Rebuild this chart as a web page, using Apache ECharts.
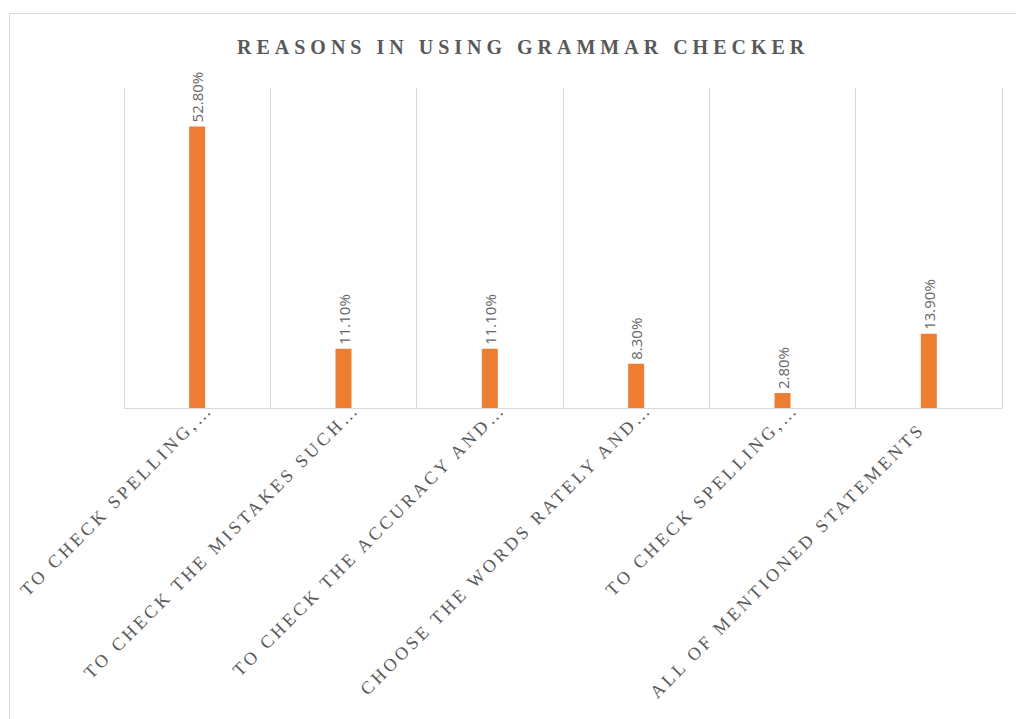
<!DOCTYPE html>
<html>
<head>
<meta charset="utf-8">
<script src="https://cdn.jsdelivr.net/npm/echarts@6/dist/echarts.min.js"></script>
<style>
  html, body { margin: 0; padding: 0; background: #fff; }
  #main { width: 1016px; height: 719px; }
  /* spaced-out serif caps like the original */
  #main text[style*="serif" i] { letter-spacing: 3.3px; }
  #main text[style*="bold" i] { letter-spacing: 5px; }
</style>
</head>
<body>
<div id="main"></div>
<script>
  // 数据
  var categories = [
    'TO CHECK SPELLING,…',
    'TO CHECK THE MISTAKES SUCH…',
    'TO CHECK THE ACCURACY AND…',
    'CHOOSE THE WORDS RATELY AND…',
    'TO CHECK SPELLING,…',
    'ALL OF MENTIONED STATEMENTS'
  ];
  var values = [52.8, 11.1, 11.1, 8.3, 2.8, 13.9];

  // 截断的标签和完整标签位置略有不同
  var axisData = categories.map(function (c) {
    var cut = c.charAt(c.length - 1) === '…';
    return {value: c, textStyle: {padding: cut ? [20, -18, 0, 0] : [30, 10, 0, 0]}};
  });

  var myChart = echarts.init(document.getElementById('main'), null, {renderer: 'svg'});

  var option = {
    backgroundColor: '#fff',
    animation: false,
    title: {
      text: 'REASONS IN USING GRAMMAR CHECKER',
      left: 232,
      top: 32,
      textStyle: {
        fontFamily: 'Liberation Serif',
        fontWeight: 'bold',
        fontSize: 20,
        color: '#595959'
      }
    },
    // 外框
    graphic: [{
      type: 'rect',
      shape: {x: 9.5, y: 13.5, width: 1030, height: 730},
      style: {fill: 'none', stroke: '#d9d9d9', lineWidth: 1},
      silent: true
    }],
    grid: {
      left: 124,
      right: 14,
      top: 88,
      bottom: 311
    },
    xAxis: {
      type: 'category',
      data: axisData,
      axisLine: {lineStyle: {color: '#d9d9d9', width: 1}},
      axisTick: {show: false},
      splitLine: {show: true, lineStyle: {color: '#d9d9d9', width: 1}},
      axisLabel: {
        interval: 0,
        rotate: 45,
        margin: 11,
        fontFamily: 'Liberation Serif',
        fontSize: 18,
        color: '#595959'
      }
    },
    yAxis: {
      type: 'value',
      min: 0,
      max: 60,
      show: false,
      splitLine: {show: false}
    },
    series: [{
      type: 'bar',
      data: values,
      barWidth: 16,
      itemStyle: {color: '#ED7D31'},
      label: {
        show: true,
        position: 'top',
        rotate: 90,
        align: 'left',
        verticalAlign: 'middle',
        distance: 4,
        fontFamily: 'Open Sans',
        fontSize: 15,
        color: '#666666',
        formatter: function (p) { return p.value.toFixed(2) + '%'; }
      }
    }]
  };

  myChart.setOption(option);
</script>
</body>
</html>
